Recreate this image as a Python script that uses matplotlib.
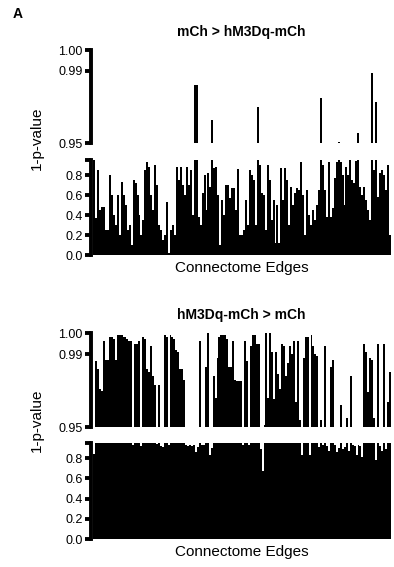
import numpy as np
import matplotlib
matplotlib.use("Agg")
import matplotlib.pyplot as plt

plt.rcParams['font.family'] = ['Liberation Sans', 'DejaVu Sans']

# 1-p-value per connectome edge
mch_gt_hm3dq = [
    0.95, 0.37, 0.85, 0.45, 0.48, 0.48, 0.25, 0.25, 0.80, 0.60,
    0.40, 0.30, 0.60, 0.20, 0.73, 0.60, 0.50, 0.25, 0.30, 0.10,
    0.75, 0.72, 0.60, 0.40, 0.20, 0.35, 0.85, 0.93, 0.88, 0.60,
    0.45, 0.90, 0.70, 0.30, 0.25, 0.15, 0.20, 0.53, 0.02, 0.25,
    0.30, 0.20, 0.88, 0.75, 0.88, 0.70, 0.60, 0.88,
    0.70, 0.85, 0.40, 0.982, 0.982, 0.38, 0.30, 0.62, 0.80, 0.45,
    0.82, 0.68, 0.963, 0.87, 0.88, 0.60, 0.10, 0.55, 0.40, 0.70,
    0.70, 0.57, 0.67, 0.67, 0.45, 0.86, 0.20, 0.20, 0.25, 0.55,
    0.30, 0.85, 0.80, 0.75, 0.30, 0.970, 0.90, 0.62, 0.60, 0.25,
    0.90, 0.75, 0.35, 0.55, 0.12, 0.50, 0.12, 0.87, 0.55, 0.87,
    0.75,
    0.30, 0.68, 0.50, 0.62, 0.67, 0.65, 0.93, 0.60, 0.20, 0.65,
    0.40, 0.30, 0.45, 0.35, 0.50, 0.65, 0.975, 0.90, 0.65, 0.38,
    0.93, 0.38, 0.47, 0.77, 0.93, 0.9505, 0.93, 0.80, 0.50, 0.88,
    0.80, 0.95, 0.75, 0.72, 0.94, 0.9556, 0.68, 0.60, 0.68, 0.55,
    0.45, 0.35, 0.989, 0.85, 0.9725, 0.58, 0.82, 0.85, 0.80, 0.65,
    0.90, 0.20,
]

hm3dq_gt_mch = [
    0.84,
    0.986, 0.982, 0.971, 0.970, 0.996, 0.987, 0.987, 0.998, 0.998, 0.997,
    0.987, 0.999, 0.999, 0.999, 0.998, 0.998, 0.997, 0.996, 0.996, 0.93,
    0.995, 0.995, 0.996, 0.92, 0.998, 0.997, 0.982, 0.980, 0.994, 0.978,
    0.973, 0.94, 0.973, 0.92, 0.91, 0.999, 0.998, 0.93, 0.999, 0.998,
    0.997, 0.992, 0.991, 0.982, 0.982, 0.976, 0.93, 0.92, 0.93, 0.92,
    0.93, 0.86, 0.91, 0.996, 0.93, 0.93, 0.983, 1.0, 0.83, 0.90,
    0.978, 0.966, 0.988, 0.998, 0.999, 0.999, 0.999, 0.997, 0.983, 0.983,
    0.996, 0.976, 0.975, 0.975, 0.975, 0.93, 0.996, 0.986, 0.93, 0.994,
    0.999, 0.999, 0.995, 0.995, 0.89, 0.67, 0.951, 1.0, 0.966, 1.0,
    0.991, 0.9655, 0.991, 0.979, 0.971, 0.995, 0.994, 0.978, 0.985, 0.994,
    0.99, 0.996, 0.964, 0.996, 0.954, 0.83, 0.988, 0.998, 0.998, 0.83,
    0.999, 0.994, 0.990, 0.989, 0.91, 0.954, 0.93, 0.994, 0.92, 0.87,
    0.983, 0.987, 0.93, 0.86, 0.90, 0.962, 0.89, 0.91, 0.955, 0.87,
    0.978, 0.93, 0.92, 0.83, 0.93, 0.92, 0.81, 0.995, 0.991, 0.969,
    0.988, 0.987, 0.955, 0.78, 0.995, 0.92, 0.87, 0.995, 0.89, 0.964,
    0.98,
]

top_ticks = [0.95, 0.99, 1.00]
top_labels = ['0.95', '0.99', '1.00']
low_ticks = [0.0, 0.2, 0.4, 0.6, 0.8]
low_labels = ['0.0', '0.2', '0.4', '0.6', '0.8']
low_max = 0.95


# stretched upper segment: 0.95-0.99 and 0.99-1.00
def fwd(v):
    v = np.asarray(v, float)
    return np.where(v < 0.99, (v - 0.95) / 0.04 * 0.775, 0.775 + (v - 0.99) / 0.01 * 0.225)


def inv(t):
    t = np.asarray(t, float)
    return np.where(t < 0.775, 0.95 + t / 0.775 * 0.04, 0.99 + (t - 0.775) / 0.225 * 0.01)


def style(ax, ticks, labels):
    for s in ['top', 'right', 'bottom']:
        ax.spines[s].set_visible(False)
    ax.spines['left'].set_linewidth(2.8)
    ax.set_xticks([])
    ax.set_yticks(ticks)
    ax.set_yticklabels(labels)
    ax.tick_params(axis='y', length=4.5, width=2.8, pad=1.5, labelsize=9)


fig = plt.figure(figsize=(3.94, 5.67), dpi=100)
W, H = 394.0, 567.0


def panel(vals, title, top_px, brk_px, low_top_px, low_bot_px):
    n = len(vals)
    x = np.arange(n)
    left = 91 / W
    width = 301 / W
    ax_t = fig.add_axes([left, 1 - brk_px / H, width, (brk_px - top_px) / H])
    ax_b = fig.add_axes([left, 1 - low_bot_px / H, width, (low_bot_px - low_top_px) / H])

    ax_t.bar(x, vals, width=1.0, color='black', linewidth=0)
    ax_t.set_yscale('function', functions=(fwd, inv))
    ax_t.set_ylim(0.95, 1.0)
    style(ax_t, top_ticks, top_labels)

    ax_b.bar(x, vals, width=1.0, color='black', linewidth=0)
    ax_b.set_ylim(0, low_max)
    style(ax_b, low_ticks, low_labels)
    # unlabelled tick at the top end of the lower segment
    ax_b.set_yticks([low_max], minor=True)
    ax_b.tick_params(axis='y', which='minor', length=4.5, width=2.8)

    for a in (ax_t, ax_b):
        a.set_xlim(-1.6, n + 0.1)

    ax_t.set_title(title, fontsize=10, fontweight='bold', pad=10)
    ax_b.set_xlabel('Connectome Edges', fontsize=11, labelpad=4)
    return ax_t, ax_b


panel(mch_gt_hm3dq, 'mCh > hM3Dq-mCh', 50, 143, 160, 255)
panel(hm3dq_gt_mch, 'hM3Dq-mCh > mCh', 333, 427, 443, 539)

fig.text(37 / W, 1 - 138 / H, '1-p-value', rotation=90, fontsize=11,
         ha='center', va='center')
fig.text(37 / W, 1 - 420 / H, '1-p-value', rotation=90, fontsize=11,
         ha='center', va='center')
fig.text(18 / W, 1 - 14 / H, 'A', fontsize=10, fontweight='bold',
         ha='center', va='center')

fig.savefig('out.png', dpi=100)
